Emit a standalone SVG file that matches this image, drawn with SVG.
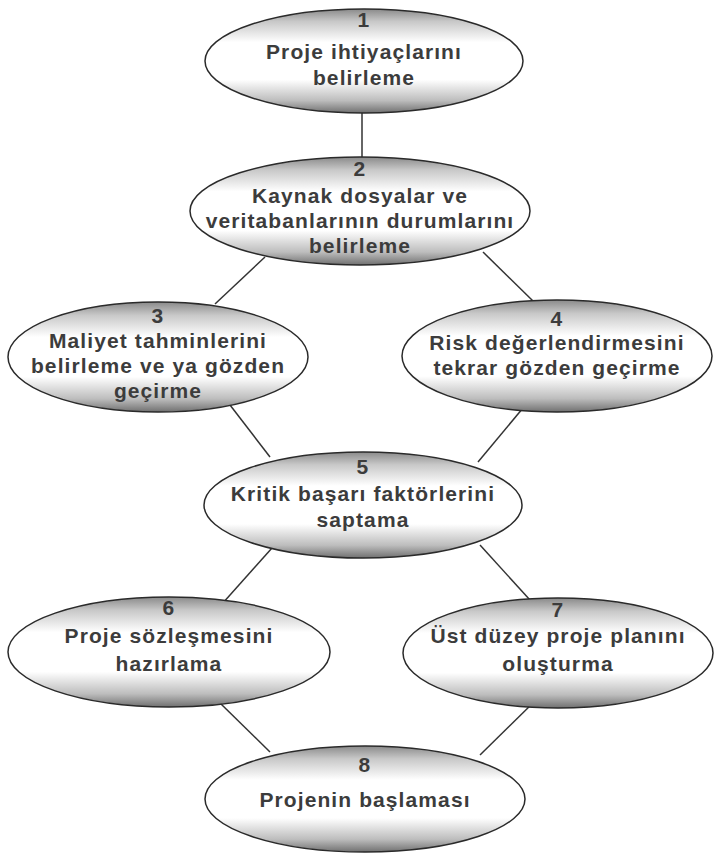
<svg xmlns="http://www.w3.org/2000/svg" width="715" height="854" viewBox="0 0 715 854">
<defs>
<linearGradient id="g" x1="0" y1="0" x2="0" y2="1">
<stop offset="0" stop-color="#8a8a8a"/>
<stop offset="0.12" stop-color="#c8c8c8"/>
<stop offset="0.32" stop-color="#ffffff"/>
<stop offset="0.68" stop-color="#ffffff"/>
<stop offset="0.88" stop-color="#bdbdbd"/>
<stop offset="1" stop-color="#707070"/>
</linearGradient>
</defs>
<style>
.n{fill:url(#g);stroke:#2a2a2a;stroke-width:1.5}
.t{font-family:"Liberation Sans",Arial,sans-serif;font-weight:bold;font-size:21px;letter-spacing:1.1px;fill:#3c3c3c;text-anchor:middle}
.c line{stroke:#333;stroke-width:1.5}
</style>
<rect width="715" height="854" fill="#fff"/>
<g class="c" id="connectors">
<line x1="362" y1="113" x2="362" y2="160"/>
<line x1="265" y1="257" x2="215" y2="304"/>
<line x1="483" y1="252" x2="533" y2="301"/>
<line x1="230" y1="405" x2="270" y2="457"/>
<line x1="523" y1="408" x2="478" y2="462"/>
<line x1="272" y1="548" x2="222" y2="604"/>
<line x1="480" y1="545" x2="530" y2="600"/>
<line x1="220" y1="703" x2="270" y2="752"/>
<line x1="536" y1="700" x2="480" y2="755"/>
</g>
<g id="n1">
<ellipse class="n" cx="364" cy="61" rx="159" ry="52"/>
<text class="t" x="364" y="27">1</text>
<text class="t" x="364" y="59">Proje ihtiyaçlarını</text>
<text class="t" x="364" y="85">belirleme</text>
</g>
<g id="n2">
<ellipse class="n" cx="360" cy="211" rx="170" ry="54"/>
<text class="t" x="360" y="176">2</text>
<text class="t" x="360" y="203">Kaynak dosyalar ve</text>
<text class="t" x="360" y="228">veritabanlarının durumlarını</text>
<text class="t" x="360" y="253">belirleme</text>
</g>
<g id="n3">
<ellipse class="n" cx="158" cy="357" rx="150" ry="55"/>
<text class="t" x="158" y="323">3</text>
<text class="t" x="158" y="348">Maliyet tahminlerini</text>
<text class="t" x="158" y="373">belirleme ve ya gözden</text>
<text class="t" x="158" y="398">geçirme</text>
</g>
<g id="n4">
<ellipse class="n" cx="557" cy="356" rx="155" ry="56"/>
<text class="t" x="557" y="326">4</text>
<text class="t" x="557" y="350">Risk değerlendirmesini</text>
<text class="t" x="557" y="375">tekrar gözden geçirme</text>
</g>
<g id="n5">
<ellipse class="n" cx="363" cy="505" rx="159" ry="53"/>
<text class="t" x="363" y="474">5</text>
<text class="t" x="363" y="501">Kritik başarı faktörlerini</text>
<text class="t" x="363" y="527">saptama</text>
</g>
<g id="n6">
<ellipse class="n" cx="169" cy="652" rx="161" ry="55"/>
<text class="t" x="169" y="615">6</text>
<text class="t" x="169" y="643">Proje sözleşmesini</text>
<text class="t" x="169" y="671">hazırlama</text>
</g>
<g id="n7">
<ellipse class="n" cx="558" cy="653" rx="155" ry="55"/>
<text class="t" x="558" y="617">7</text>
<text class="t" x="558" y="643">Üst düzey proje planını</text>
<text class="t" x="558" y="671">oluşturma</text>
</g>
<g id="n8">
<ellipse class="n" cx="365" cy="799" rx="160" ry="53"/>
<text class="t" x="365" y="772">8</text>
<text class="t" x="365" y="807">Projenin başlaması</text>
</g>
</svg>
